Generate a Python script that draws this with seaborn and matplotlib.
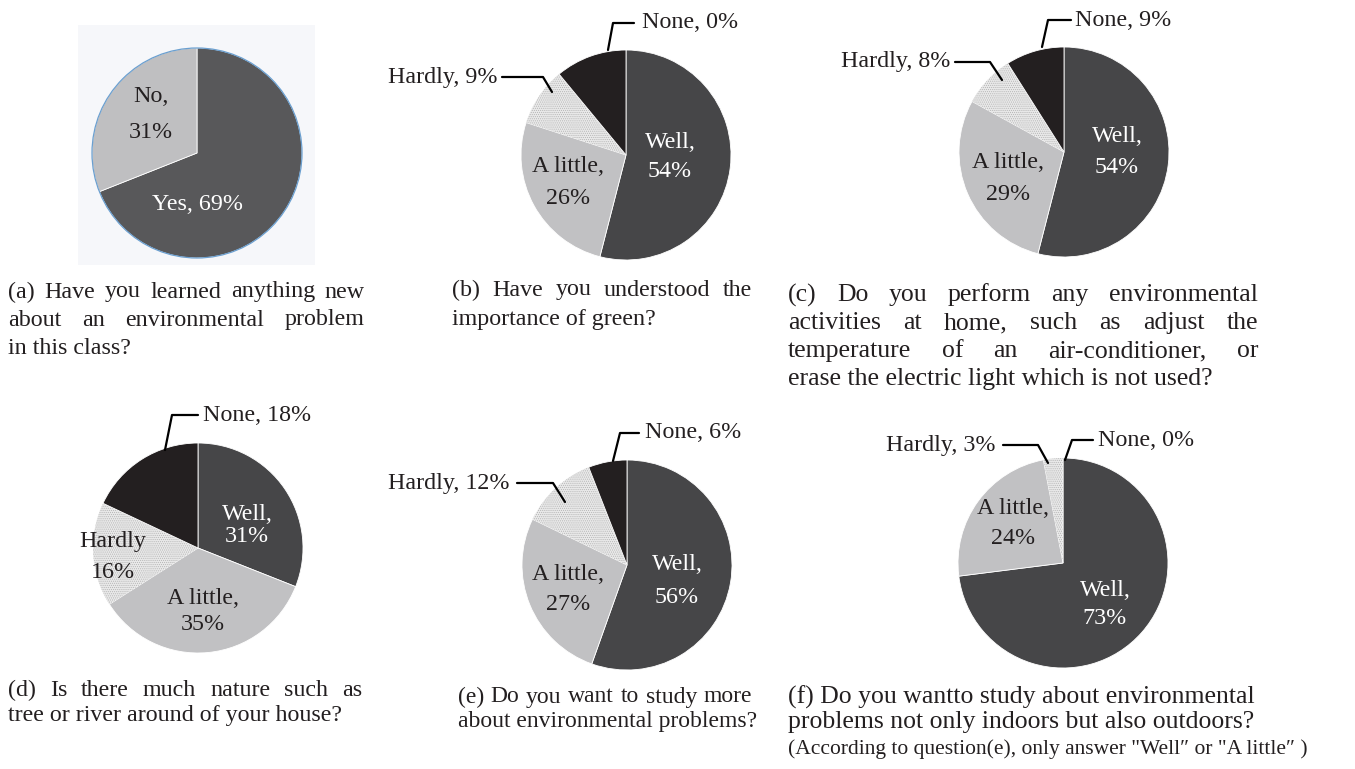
import matplotlib
matplotlib.use("Agg")
import matplotlib.pyplot as plt
from matplotlib.lines import Line2D
from matplotlib.patches import Rectangle, Circle
import seaborn as sns

# ---------------- data ----------------
categories = ["Well", "A little", "Hardly", "None"]
a_categories = ["Yes", "No"]
a_values = [69, 31]
b_values = [54, 26, 9, 11]      # slice sizes as drawn
b_pct = [54, 26, 9, 0]          # percentages as printed
c_values = [54, 29, 8, 9]
d_values = [31, 35, 16, 18]
e_values = [56, 27, 12, 6]
f_values = [73, 24, 3, 0]

captions = {
    "a": ["(a) Have you learned anything new", "about an environmental problem", "in this class?"],
    "b": ["(b) Have you understood the", "importance of green?"],
    "c": ["(c) Do you perform any environmental", "activities at home, such as adjust the",
          "temperature of an air-conditioner, or", "erase the electric light which is not used?"],
    "d": ["(d) Is there much nature such as", "tree or river around of your house?"],
    "e": ["(e) Do you want to study more", "about environmental problems?"],
    "f": ["(f) Do you wantto study about environmental", "problems not only indoors but also outdoors?",
          "(According to question(e), only answer \"Well\u2033 or \"A little\u2033 )"],
}

# ---------------- style ----------------
sns.set_theme(style="white")
plt.rcParams["font.family"] = ["Liberation Serif", "DejaVu Serif"]
plt.rcParams["hatch.linewidth"] = 0.5

W, H = 1355, 769
fig = plt.figure(figsize=(W / 100, H / 100), dpi=100)
fig.patch.set_facecolor("white")
renderer = fig.canvas.get_renderer()

FS = 17.3
DARK = "#231f20"
grays = ["#464648", "#c1c1c3", "#e9e9e9", "#231f20"]


def fx(px):
    return px / W


def fy(py):
    return 1 - py / H


R = 105


def pie_at(cx, cy, values, colors, hatch_idx=None):
    pad = 1.02
    side = 2 * R * pad
    ax = fig.add_axes([fx(cx - R * pad), fy(cy + R * pad), side / W, side / H])
    wedges, _ = ax.pie(values, colors=colors, startangle=90, counterclock=False,
                       radius=1, wedgeprops=dict(edgecolor="white", linewidth=0.6))
    if hatch_idx is not None:
        w = wedges[hatch_idx]
        w.set_hatch("........")
        w.set_edgecolor("#b4b4b4")
        w.set_linewidth(0)
    ax.set_xlim(-pad, pad)
    ax.set_ylim(-pad, pad)
    ax.set_axis_off()
    return ax, wedges


def text_px(x, y, s, ha="center", color=DARK, size=FS):
    fig.text(fx(x), fy(y), s, ha=ha, va="center", color=color, fontsize=size)


def two_line(x, y, l1, l2, pitch, color):
    text_px(x, y - pitch / 2, l1, color=color)
    text_px(x, y + pitch / 2, l2, color=color)


def leader(points):
    xs = [fx(p[0]) for p in points]
    ys = [fy(p[1]) for p in points]
    fig.add_artist(Line2D(xs, ys, color="black", lw=1.6, transform=fig.transFigure))


def measure(s, size):
    t = fig.text(0, 0, s, fontsize=size)
    wd = t.get_window_extent(renderer).width
    t.remove()
    return wd


def caption(x, ys, lines, justify_to=None, size=FS, sizes=None):
    for i, (ln, y) in enumerate(zip(lines, ys)):
        sz = sizes[i] if sizes else size
        jw = justify_to[i] if justify_to and i < len(justify_to) else None
        if jw is None:
            fig.text(fx(x), fy(y), ln, ha="left", va="center", color=DARK, fontsize=sz)
        else:
            words = ln.split()
            widths = [measure(w, sz) for w in words]
            gap = (jw - x - sum(widths)) / (len(words) - 1)
            cur = x
            for w, wd in zip(words, widths):
                fig.text(fx(cur), fy(y), w, ha="left", va="center", color=DARK, fontsize=sz)
                cur += wd + gap


# ---------------- (a) ----------------
fig.add_artist(Rectangle((fx(78), fy(265)), (315 - 78) / W, (265 - 25) / H,
                         transform=fig.transFigure, facecolor="#f6f7fa", edgecolor="none", zorder=0))
ax, _ = pie_at(197, 153, a_values, ["#58585a", "#bfbfc1"])
ax.add_patch(Circle((0, 0), 1, fill=False, edgecolor="#6a9fd0", lw=0.9))
text_px(198, 205, f"{a_categories[0]}, {a_values[0]}%", color="white")
text_px(151, 97, f"{a_categories[1]},", color=DARK)
text_px(151, 132, f"{a_values[1]}%", color=DARK)
caption(8, [292, 320, 348], captions["a"], justify_to=[365, 365])

# ---------------- (b) ----------------
pie_at(626, 155, b_values, grays, hatch_idx=2)
two_line(670, 157, f"{categories[0]},", f"{b_pct[0]}%", 29, "white")
two_line(568, 183, f"{categories[1]},", f"{b_pct[1]}%", 32, DARK)
text_px(642, 23, f"{categories[3]}, {b_pct[3]}%", ha="left")
leader([(634, 23), (613, 23), (608, 50)])
text_px(498, 77, f"{categories[2]}, {b_pct[2]}%", ha="right")
leader([(502, 77), (543, 77), (552, 92)])
caption(452, [290, 320], captions["b"], justify_to=[752])

# ---------------- (c) ----------------
pie_at(1064, 152, c_values, grays, hatch_idx=2)
two_line(1117, 152, f"{categories[0]},", f"{c_values[0]}%", 31, "white")
two_line(1008, 179, f"{categories[1]},", f"{c_values[1]}%", 32, DARK)
text_px(1075, 20, f"{categories[3]}, {c_values[3]}%", ha="left")
leader([(1071, 20), (1048, 20), (1042, 47)])
text_px(950, 62, f"{categories[2]}, {c_values[2]}%", ha="right")
leader([(955, 62), (990, 62), (1002, 80)])
caption(788, [295, 323, 351, 379], captions["c"], justify_to=[1258, 1258, 1258], size=18.5)

# ---------------- (d) ----------------
pie_at(198, 548, d_values, grays, hatch_idx=2)
two_line(247, 525, f"{categories[0]},", f"{d_values[0]}%", 22, "white")
two_line(113, 557, f"{categories[2]}", f"{d_values[2]}%", 30, DARK)
two_line(203, 611, f"{categories[1]},", f"{d_values[1]}%", 26, DARK)
text_px(203, 415, f"{categories[3]}, {d_values[3]}%", ha="left")
leader([(198, 415), (172, 415), (165, 450)])
caption(8, [690, 715], captions["d"], justify_to=[362])

# ---------------- (e) ----------------
pie_at(627, 565, e_values, grays, hatch_idx=2)
two_line(677, 581, f"{categories[0]},", f"{e_values[0]}%", 33, "white")
two_line(568, 590, f"{categories[1]},", f"{e_values[1]}%", 30, DARK)
text_px(645, 433, f"{categories[3]}, {e_values[3]}%", ha="left")
leader([(639, 433), (620, 433), (613, 461)])
text_px(510, 483, f"{categories[2]}, {e_values[2]}%", ha="right")
leader([(517, 483), (553, 483), (565, 502)])
caption(458, [697, 722], captions["e"], justify_to=[752], size=17)

# ---------------- (f) ----------------
pie_at(1063, 563, f_values, grays, hatch_idx=2)
two_line(1105, 604, f"{categories[0]},", f"{f_values[0]}%", 28, "white")
two_line(1013, 523, f"{categories[1]},", f"{f_values[1]}%", 30, DARK)
text_px(995, 445, f"{categories[2]}, {f_values[2]}%", ha="right")
leader([(1003, 445), (1038, 445), (1048, 463)])
text_px(1098, 440, f"{categories[3]}, {f_values[3]}%", ha="left")
leader([(1093, 440), (1072, 440), (1065, 460)])
caption(788, [697, 722, 749], captions["f"], sizes=[18.5, 18.5, 15.5])

fig.savefig("out.png", dpi=100, facecolor="white")
